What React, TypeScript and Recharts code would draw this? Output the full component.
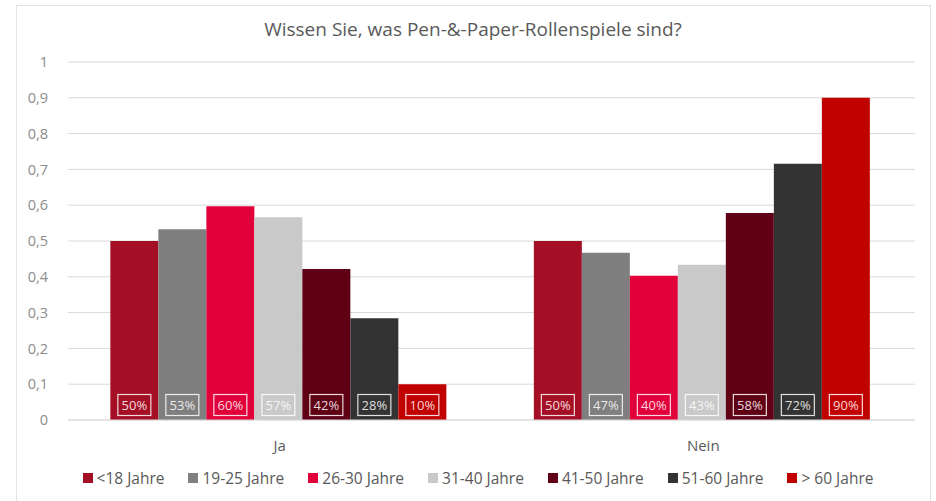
import React from 'react';
import { BarChart, Bar, XAxis, YAxis, CartesianGrid, LabelList } from 'recharts';

const categories = ['Ja', 'Nein'];
const groups = ['<18 Jahre', '19-25 Jahre', '26-30 Jahre', '31-40 Jahre', '41-50 Jahre', '51-60 Jahre', '> 60 Jahre'];
const under18 = [0.5, 0.5];
const age19to25 = [0.533, 0.467];
const age26to30 = [0.597, 0.403];
const age31to40 = [0.566, 0.434];
const age41to50 = [0.422, 0.578];
const age51to60 = [0.284, 0.716];
const over60 = [0.1, 0.9];
const yTicks = [0, 0.1, 0.2, 0.3, 0.4, 0.5, 0.6, 0.7, 0.8, 0.9, 1];

const colors = ['#A50F26', '#7F7F7F', '#E2003B', '#C9C9C9', '#600015', '#333333', '#C10000'];
const seriesValues = [under18, age19to25, age26to30, age31to40, age41to50, age51to60, over60];
const keys = ['s0', 's1', 's2', 's3', 's4', 's5', 's6'];

const data = categories.map((name, i) => {
    const row: any = { name };
    keys.forEach((k, j) => { row[k] = seriesValues[j][i]; });
    return row;
});

const font = '"Open Sans", "Noto Sans", sans-serif';

const fmtTick = (v: number) => (v === 0 ? '0' : v === 1 ? '1' : v.toFixed(1).replace('.', ','));

const BoxLabel = (props: any) => {
    const { x, y, width, height, value } = props;
    const cx = x + width / 2;
    const bottom = y + height;
    const cy = bottom - 15;
    return (
        <g>
            <rect x={cx - 16.5} y={cy - 10.5} width={33} height={21} fill="none" stroke="#ffffff" strokeOpacity={0.85} strokeWidth={1.2} />
            <text x={cx} y={cy + 4.5} textAnchor="middle" fontSize={13} fontFamily={font} fill="#ffffff" fillOpacity={0.85}>
                {Math.round(value * 100) + '%'}
            </text>
        </g>
    );
};

const LegendContent = () => (
    <div style={{ display: 'flex', justifyContent: 'center', gap: 24, fontFamily: font, fontSize: 15.5, color: '#595959' }}>
        {groups.map((g, i) => (
            <span key={g} style={{ display: 'flex', alignItems: 'center' }}>
                <span style={{ width: 10, height: 10, background: colors[i], display: 'inline-block', marginRight: 4 }} />
                {g}
            </span>
        ))}
    </div>
);

const App: React.FC = () => {
    return (
        <div style={{ position: 'absolute', left: 0, top: 0, width: 936, height: 501, background: '#fff', overflow: 'hidden' }}>
            <div style={{ position: 'absolute', left: 16, top: 5, width: 913, height: 520, border: '1px solid #e3e3e3' }} />
            <div style={{ position: 'absolute', left: 0, top: 16, width: 946, textAlign: 'center', fontFamily: font, fontSize: 19, color: '#595959' }}>
                Wissen Sie, was Pen-&amp;-Paper-Rollenspiele sind?
            </div>
            <div style={{ position: 'absolute', left: 0, top: 0 }}>
                <BarChart
                    width={936}
                    height={501}
                    data={data}
                    margin={{ top: 62, right: 21, left: 8, bottom: 0 }}
                    barCategoryGap="10%"
                    barGap={0}
                >
                    <CartesianGrid vertical={false} stroke="#d9d9d9" />
                    <XAxis
                        dataKey="name"
                        axisLine={{ stroke: '#d9d9d9' }}
                        tickLine={false}
                        tickMargin={14}
                        height={81}
                        tick={{ fontFamily: font, fontSize: 15, fill: '#595959' }}
                    />
                    <YAxis
                        width={60}
                        domain={[0, 1]}
                        ticks={yTicks}
                        tickFormatter={fmtTick}
                        axisLine={false}
                        tickLine={false}
                        tickSize={0}
                        tickMargin={20}
                        tick={{ fontFamily: font, fontSize: 14.5, fill: '#8c8c8c' }}
                    />
                    {keys.map((k, i) => (
                        <Bar key={k} dataKey={k} name={groups[i]} fill={colors[i]} isAnimationActive={false}>
                            <LabelList dataKey={k} content={<BoxLabel />} />
                        </Bar>
                    ))}
                </BarChart>
            </div>
            <div style={{ position: 'absolute', left: 10, top: 467, width: 936 }}>
                <LegendContent />
            </div>
        </div>
    );
};

export default App;
